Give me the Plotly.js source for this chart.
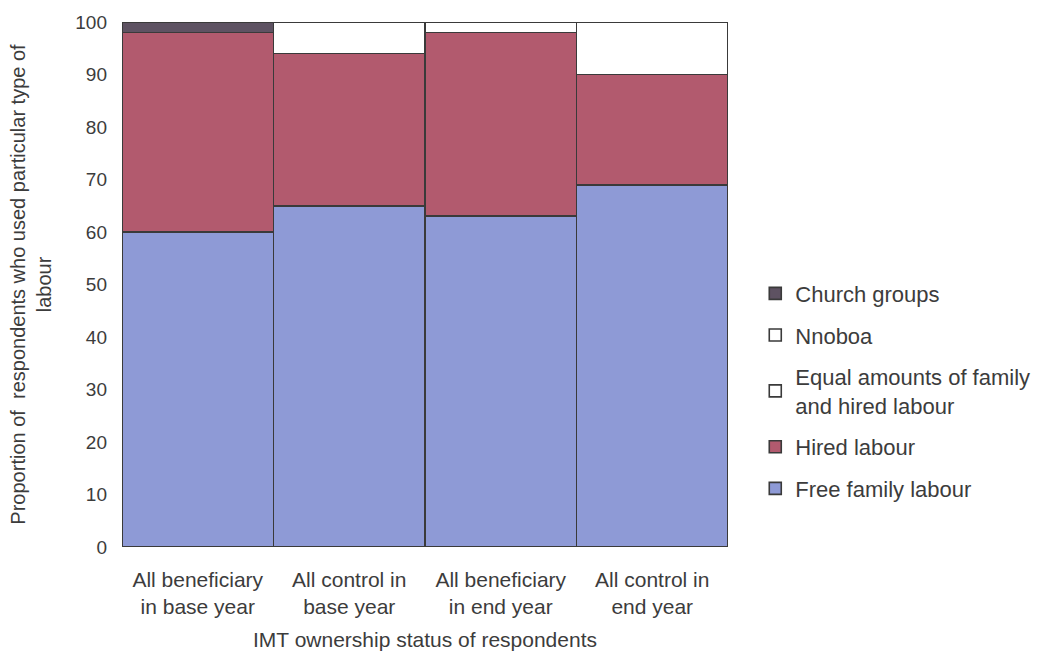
<!DOCTYPE html>
<html><head><meta charset="utf-8">
<script src="https://cdn.plot.ly/plotly-3.0.1.min.js"></script>
<style>body{margin:0;background:#fff}</style>
</head><body><div id="chart" style="width:1053px;height:652px"></div>
<script>
const categories = ["All beneficiary<br>in base year", "All control in<br>base year", "All beneficiary<br>in end year", "All control in<br>end year"];
const freeFamily = [60, 65, 63, 69];
const hired = [38, 29, 35, 21];
const equalAmounts = [0, 6, 2, 10];
const nnoboa = [0, 0, 0, 0];
const church = [2, 0, 0, 0];
const yTicks = [0, 10, 20, 30, 40, 50, 60, 70, 80, 90, 100];

const line = {color: '#3a3a3a', width: 1.6};
function tr(name, y, color, g, rank) {
  return {type: 'bar', name: name, x: categories, y: y, legendgroup: g, legendrank: rank,
    marker: {color: color, line: line}, hoverinfo: 'y+name'};
}
const data = [
  tr('Free family labour', freeFamily, '#8e9ad6', 'a', 5),
  tr('Hired labour', hired, '#b25a6e', 'b', 4),
  tr('Equal amounts of family<br>and hired labour', equalAmounts, '#ffffff', 'c', 3),
  tr('Nnoboa', nnoboa, '#ffffff', 'd', 2),
  tr('Church groups', church, '#5e5262', 'e', 1)
];
const font = {family: 'Liberation Sans, Arial, sans-serif', color: '#3c3c3c', size: 20};
const layout = {
  barmode: 'stack', bargap: 0,
  width: 1053, height: 652,
  margin: {l: 122, r: 325, t: 22, b: 105},
  paper_bgcolor: '#fff', plot_bgcolor: '#fff',
  font: font,
  showlegend: true,
  legend: {x: 1.045, xanchor: 'left', y: 0.297, yanchor: 'middle',
    traceorder: 'grouped', tracegroupgap: 10,
    font: {family: font.family, size: 22, color: '#3c3c3c'},
    itemwidth: 30},
  xaxis: {tickfont: {size: 21}, showline: false, ticks: '', ticklabelstandoff: 18,
    title: {text: 'IMT ownership status of respondents', font: {size: 21}, standoff: 15}},
  yaxis: {range: [0, 100], tickvals: yTicks, ticktext: yTicks.map(String),
    showgrid: false, zeroline: false, showline: false, ticks: '',
    tickfont: {size: 19}, ticklabelstandoff: 14,
    title: {text: 'Proportion of  respondents who used particular type of<br>labour', font: {size: 20}, standoff: 18}}
};
Plotly.newPlot('chart', data, layout, {staticPlot: true});
</script></body></html>
